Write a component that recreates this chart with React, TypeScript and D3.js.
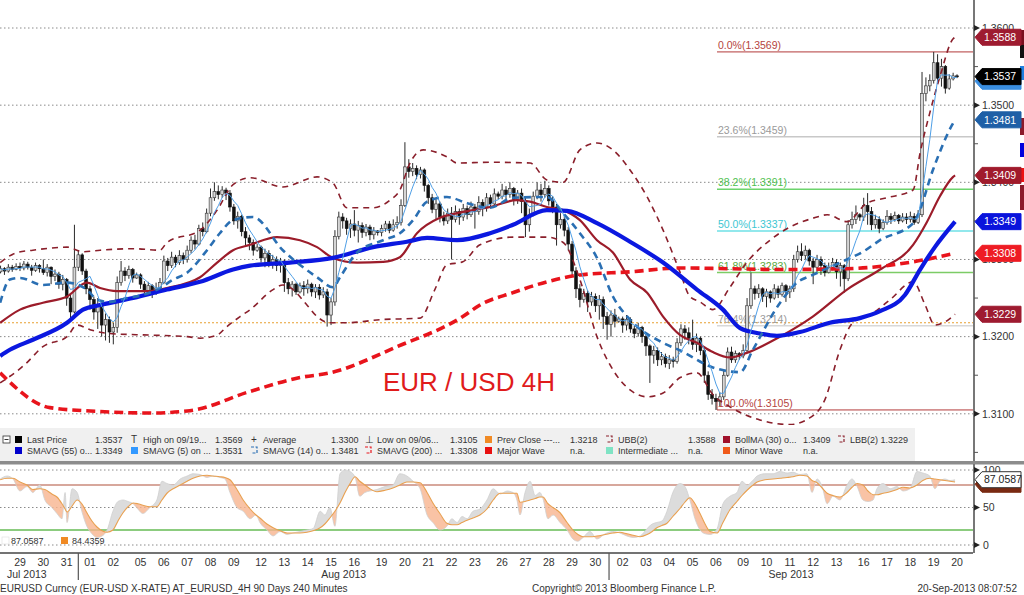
import React from "react";
import * as d3 from "d3";

// ---------- DATA ----------
// Price values are pips above 1.3000 (e.g. 285 => 1.3285). Bar index 0 = Jul 29 label position.
const FIRST_BAR = -5;
// [open, high, low, close] per 4H bar
const candles: number[][] = [
  [284,292,282,288],[288,290,280,285],[285,294,283,290],[290,293,284,287],[287,295,286,291],
  [291,296,285,289],[289,298,286,294],[294,297,287,290],[290,293,279,286],[286,296,284,292],[292,294,283,288],
  [288,300,280,283],[283,294,278,290],[290,291,268,278],[278,287,272,281],[281,284,262,268],[268,280,260,274],
  [274,276,240,250],[250,255,222,232],[232,345,230,290],[290,312,285,306],[306,308,280,285],[285,288,255,262],
  [262,266,235,248],[248,252,222,232],[232,250,210,240],[240,244,200,215],[215,230,195,222],[222,226,192,206],
  [206,218,190,212],[212,278,205,270],[270,298,266,285],[285,290,272,279],[279,292,275,287],[287,289,270,276],
  [276,283,275,280],
  [280,282,262,268],[268,272,252,260],[260,271,255,266],[266,268,250,258],[258,270,254,263],[263,276,258,270],
  [270,305,268,298],[298,302,285,292],[292,310,289,303],[303,306,290,296],[296,312,293,305],[305,309,294,300],
  [300,318,296,312],[312,330,308,325],[325,332,313,320],[320,345,318,340],[340,348,330,336],[336,366,334,360],
  [360,392,356,380],[380,400,376,388],[388,396,378,384],[384,395,380,390],[390,393,377,386],[386,390,362,368],
  [368,372,345,350],[350,362,340,356],[356,358,330,336],[336,342,318,328],[328,332,312,322],[322,326,305,312],
  [312,320,310,316],
  [316,318,296,302],[302,314,290,308],[308,312,290,296],[296,306,288,300],[300,304,285,292],[292,302,283,298],
  [298,300,258,270],[270,276,255,262],[262,272,252,268],[268,270,254,258],[258,270,256,266],[266,272,253,262],
  [262,274,256,268],[268,270,252,258],[258,268,250,264],[264,268,248,254],[254,264,250,258],[258,262,213,228],
  [228,250,215,245],[245,338,240,330],[330,362,326,355],[355,360,340,350],[350,354,332,340],[340,352,328,346],
  [346,364,330,338],[338,350,322,344],[344,348,328,335],[335,346,330,342],[342,345,325,332],[332,342,326,337],
  [337,338,331,335],
  [335,345,330,340],[340,350,336,346],[346,350,334,338],[338,352,336,345],[345,356,340,348],[348,378,344,370],
  [370,452,368,420],[420,430,406,414],[414,425,408,418],[418,422,404,410],[410,420,405,416],[416,418,388,396],
  [396,398,372,380],[380,385,360,365],[365,378,352,372],[372,375,348,355],[355,362,344,350],[350,366,346,360],
  [360,368,300,352],[352,370,348,362],[362,366,345,355],[355,372,350,366],[366,370,352,358],[358,375,355,368],
  [368,372,340,362],[362,382,358,374],[374,378,356,368],[368,386,362,380],[380,384,366,372],[372,392,370,385],
  [385,388,378,382],
  [382,398,378,390],[390,395,376,384],[384,400,380,392],[392,394,370,378],[378,390,372,386],[386,392,360,375],
  [375,380,329,345],[345,366,336,358],[358,388,356,382],[382,400,378,390],[390,398,375,384],[384,402,380,392],
  [392,396,370,376],[376,382,360,368],[368,372,318,345],[345,360,340,352],[352,356,330,338],[338,342,312,320],
  [320,324,278,285],[285,290,250,262],[262,268,238,248],[248,262,244,256],[256,260,232,245],[245,258,240,252],
  [252,256,232,240],[240,254,222,248],[248,252,210,226],[226,232,196,216],[216,234,200,228],[228,236,212,220],
  [220,226,218,223],
  [223,226,205,215],[215,228,208,222],[222,225,205,210],[210,214,198,204],[204,218,200,212],[212,214,192,200],
  [200,204,175,188],[188,190,140,176],[176,188,165,182],[182,186,162,170],[170,180,163,174],[174,178,160,165],
  [165,176,158,170],[170,174,160,168],[168,198,165,192],[192,216,188,210],[210,215,196,205],[205,212,190,198],
  [198,222,183,190],[190,204,180,198],[198,200,176,182],[182,186,140,150],[150,155,118,125],[125,132,112,120],
  [120,126,105,116],[116,128,110,122],[122,156,118,150],[150,186,148,180],[180,187,166,170],[170,182,166,178],
  [178,180,170,175],
  [175,190,172,182],[182,250,180,240],[240,283,236,262],[262,266,248,256],[256,268,250,262],[262,264,245,252],
  [252,262,238,258],[258,260,244,250],[250,268,248,262],[262,266,250,255],[255,270,252,266],[266,268,245,258],
  [258,266,250,262],[262,306,258,300],[300,318,296,310],[310,321,298,305],[305,318,300,312],[312,314,292,298],
  [298,302,268,290],[290,306,284,300],[300,304,280,292],[292,296,278,283],[283,296,282,290],[290,302,286,296],
  [296,300,275,284],[284,296,265,292],[292,294,257,275],[275,351,272,345],[345,362,340,352],[352,370,346,358],
  [358,360,350,355],
  [355,380,350,370],[370,386,345,362],[362,368,338,345],[345,358,340,352],[352,356,334,340],[340,352,338,348],
  [348,364,345,356],[356,360,346,352],[352,362,349,357],[357,359,346,350],[350,360,348,355],[355,360,346,352],
  [352,362,348,356],[356,360,345,348],[348,364,346,358],[358,543,355,515],[515,536,505,525],[525,540,518,532],
  [532,569,528,555],[555,566,530,535],[535,560,524,550],[550,552,515,522],[522,540,520,534],[534,542,532,538],
  [538,540,535,537],
];

// indicator lines: [bar, pips]
const smavg55 = [[-5.1,175],[-2.6,183],[3.3,196],[12.1,218],[16.2,235],[20.6,241],[29.1,250],[37.8,261],[46.3,271],[54.8,287],[59.2,292],[69.4,296],[80.5,302],[90.8,316],[99.5,323],[104.7,328],[112.4,325],[120.9,334],[126.8,345],[135.5,364],[140.7,363],[148.4,347],[156.9,323],[165.4,296],[174.1,261],[180.8,235],[185.2,211],[190.3,204],[194.7,201],[200.6,206],[208.3,218],[216,224],[221.2,233],[227.6,254],[231.5,287],[235.3,316],[240.5,349]];
const smavg200 = [[-5.1,153],[7.7,108],[20.6,103],[33.4,101],[43.7,104],[59.2,129],[72,147],[79.7,153],[97,187],[113.9,226],[118.3,241],[126.8,257],[135.5,271],[144,280],[156.9,284],[169.8,289],[182.6,288],[195.5,287],[212.7,288],[229.7,297],[240.5,308]];
const smavg14 = [[-5.1,244],[-2.6,274],[0,276],[5.9,267],[12.1,270],[17.2,261],[19.8,248],[23.1,245],[27.5,250],[31.6,254],[36,263],[39.4,274],[43,283],[48.1,312],[51.4,334],[54.8,351],[59.9,355],[67.6,312],[76.4,277],[80.5,264],[82.3,277],[86.7,309],[93.4,325],[97.7,334],[101.1,351],[104.7,375],[109.8,381],[115,373],[120.9,367],[126.8,380],[135.5,381],[139.7,360],[144,334],[148.4,302],[152.5,252],[156.9,222],[165.4,192],[169.8,182],[178.2,160],[185.2,154],[188.5,183],[195.5,244],[199.8,270],[203.9,280],[212.7,300],[216.8,310],[221.2,325],[229.7,347],[230.7,355],[234.8,416],[239.7,474],[240.5,481]];
const bollMA30 = [[-5.1,218],[0,235],[5.9,244],[12.1,252],[17.2,270],[20.6,263],[24.9,259],[33.4,259],[37.8,263],[46.3,277],[50.7,296],[54.8,312],[59.2,319],[66.1,329],[72,325],[76.4,316],[80.5,302],[86.7,296],[93.4,297],[97.7,303],[102.1,334],[108,354],[112.4,360],[120.9,368],[127.8,377],[131.2,375],[135.5,368],[139.7,364],[144,351],[148.4,325],[152.5,309],[156.9,274],[161.3,257],[165.4,226],[169.8,202],[174.1,192],[178.2,180],[182.6,173],[186.9,179],[195.5,200],[203.9,226],[212.7,261],[221.2,287],[229.7,319],[233.3,349],[236.6,382],[240,407],[240.5,409]];
const upperBB = [[-5.1,296],[-0.8,309],[3.3,312],[12.1,316],[16.2,310],[20.6,312],[29.1,314],[36,312],[37.8,322],[46.3,338],[50.7,364],[54.8,397],[59.2,406],[67.6,394],[76.4,407],[80.5,399],[84.1,367],[90.8,367],[95.2,377],[97.7,390],[100.3,425],[103.7,442],[109.8,433],[112.4,425],[120.9,426],[131.2,425],[135.5,403],[139.7,400],[144,442],[148.4,451],[152.5,442],[156.9,416],[161.3,381],[165.4,338],[169.8,283],[172.3,252],[174.9,245],[178.2,235],[182.6,264],[186.9,296],[192.9,325],[198,342],[202.4,351],[205,355],[207.6,358],[212.7,349],[217.8,373],[223,380],[229.7,390],[231.5,438],[234,490],[236.6,537],[240,586],[240.5,588]];
const lowerBB = [[-5.1,140],[1.3,164],[5.9,187],[12.1,200],[14.7,215],[18,209],[23.1,204],[33.4,202],[43,200],[46.3,198],[50.7,202],[53.2,213],[56.6,226],[59.2,235],[65.1,261],[67.6,267],[69.4,264],[73.8,241],[76.4,226],[79.7,218],[84.1,218],[92.6,222],[102.9,224],[106.7,261],[109.8,293],[113.9,297],[118.3,319],[126.8,329],[135.5,329],[139.7,322],[144,274],[148.4,200],[152.5,157],[156.9,131],[161.3,122],[165.4,127],[169.8,147],[174.1,153],[178.2,125],[182.6,109],[190.3,92],[198,86],[203.2,95],[207,118],[210.9,183],[214.2,218],[218.6,228],[223.8,248],[229.7,271],[232.8,241],[235.3,215],[237.9,219],[240.5,229]];

// Stochastic panel: [bar, fast, slow]
const stoch = [[-5.1,88,87],[-3.3,92,89],[-1.8,88,89],[0,72,84],[1.8,78,80],[3.3,70,74],[5.1,80,75],[6.4,60,74],[8.2,50,68],[9.5,42,64],[10.8,35,55],[11.6,70,48],[12.1,30,44],[13.4,75,52],[14.7,70,60],[15.9,45,55],[17.2,25,43],[18.5,15,32],[19.8,10,24],[21.1,12,19],[22.4,20,17],[23.9,45,20],[25.2,58,32],[26.5,60,43],[27.8,58,51],[29.1,55,56],[30.3,48,55],[31.6,42,53],[33.4,50,51],[35.2,60,51],[36.5,85,60],[37.8,82,69],[39.4,80,75],[41.2,88,80],[43,92,85],[44.5,95,89],[46.3,94,92],[48.1,90,93],[49.6,92,92],[51.4,90,91],[52.7,88,90],[54,70,87],[55.8,50,74],[57.4,45,60],[59.2,35,48],[60.7,40,40],[61.7,30,36],[63.5,20,28],[65.1,12,23],[66.9,18,19],[68.7,14,16],[70.2,16,16],[72,18,16],[73.8,20,17],[75.4,22,19],[77.2,45,23],[78.4,40,28],[79.7,50,36],[81,25,45],[82.3,95,56],[83.6,100,70],[84.9,98,82],[86.2,90,91],[87.4,65,85],[88.7,70,80],[90,72,75],[91.8,74,71],[93.9,78,73],[95.9,80,76],[97.7,95,80],[99.5,92,84],[101.1,85,84],[102.9,75,83],[104.7,40,70],[106.2,30,56],[108,20,42],[109.8,25,29],[111.1,35,27],[112.4,30,27],[113.7,38,30],[115,35,33],[116.5,45,36],[118.3,48,40],[120.1,60,48],[121.7,75,60],[123.5,68,69],[125.3,72,69],[126.8,70,69],[127.8,60,69],[128.6,40,57],[129.9,70,58],[131.2,85,60],[132.5,66,62],[133.7,70,64],[134.5,62,64],[135.8,35,55],[137.1,40,50],[138.9,30,43],[140.7,20,30],[142.2,8,20],[143.5,5,14],[144.8,10,11],[146.6,18,11],[148.4,8,12],[150.5,15,14],[152.5,18,16],[154.3,16,17],[156.1,12,15],[157.7,10,13],[159.5,12,11],[161.3,22,14],[162.6,28,18],[163.8,30,23],[165.1,32,26],[166.4,45,29],[167.9,70,38],[169.8,82,49],[171,78,57],[172.3,60,63],[173.6,35,55],[174.9,20,42],[176.2,15,28],[177.5,14,18],[179.3,22,16],[180.8,55,30],[182.6,65,47],[184.4,70,58],[185.7,85,66],[187,80,73],[188.3,85,79],[189.6,92,84],[191.6,95,87],[193.7,95,88],[195.5,98,89],[197.3,96,90],[198.8,97,91],[200.6,94,93],[202.4,95,92],[203.7,70,86],[205,88,83],[206.3,78,76],[207.6,55,69],[209.1,65,66],[210.9,60,64],[212.7,80,70],[214,88,77],[215.3,78,82],[216.8,60,80],[218.1,58,72],[219.4,60,67],[220.4,75,67],[222,82,69],[223.8,75,71],[225.6,78,74],[227.1,72,77],[228.9,75,76],[230.7,98,80],[232.2,96,86],[234,92,89],[235.3,75,88],[236.6,85,87],[237.9,88,86],[239.2,86,85],[240.5,87,84]];

const tradingDays = ["2013-07-29","2013-07-30","2013-07-31","2013-08-01","2013-08-02","2013-08-05","2013-08-06","2013-08-07","2013-08-08","2013-08-09","2013-08-12","2013-08-13","2013-08-14","2013-08-15","2013-08-16","2013-08-19","2013-08-20","2013-08-21","2013-08-22","2013-08-23","2013-08-26","2013-08-27","2013-08-28","2013-08-29","2013-08-30","2013-09-02","2013-09-03","2013-09-04","2013-09-05","2013-09-06","2013-09-09","2013-09-10","2013-09-11","2013-09-12","2013-09-13","2013-09-16","2013-09-17","2013-09-18","2013-09-19","2013-09-20"];

const priceTicks = [1.36, 1.35, 1.34, 1.33, 1.32, 1.31];
const priceMinorTicks = [1.355, 1.345, 1.335, 1.325, 1.315, 1.305];
const fibLevels = [
  { label: "0.0%(1.3569)", value: 1.3569, color: "#b23a3a", text: "#b5443e" },
  { label: "23.6%(1.3459)", value: 1.3459, color: "#c8c8c8", text: "#9a9a9a" },
  { label: "38.2%(1.3391)", value: 1.3391, color: "#6cd46c", text: "#4fbf4f" },
  { label: "50.0%(1.3337)", value: 1.3337, color: "#6ee0e6", text: "#3cc6d2" },
  { label: "61.8%(1.3283)", value: 1.3283, color: "#7ccc66", text: "#5aaa3a" },
  { label: "76.4%(1.3214)", value: 1.3214, color: "#d8d8d8", text: "#9a9a9a" },
  { label: "100.0%(1.3105)", value: 1.3105, color: "#b23a3a", text: "#b5443e" },
];
const prevClose = 1.3218;
const priceTags = [
  { value: 1.3531, fill: "#3a8ee0", text: "" },
  { value: 1.3588, fill: "#9e1b30", text: "1.3588" },
  { value: 1.3537, fill: "#000000", text: "1.3537" },
  { value: 1.3481, fill: "#1e5fa6", text: "1.3481" },
  { value: 1.3409, fill: "#a01b2c", text: "1.3409" },
  { value: 1.3349, fill: "#0a14dc", text: "1.3349" },
  { value: 1.3308, fill: "#ee1c24", text: "1.3308" },
  { value: 1.3229, fill: "#9e1b30", text: "1.3229" },
];
const oscTicks = [100, 50, 0];
const oscFastLast = "87.0587";
const oscSlowLast = "84.4359";

const legendRow1 = [
  { sw: "sq", color: "#000000", label: "Last Price", value: "1.3537" },
  { sw: "T", color: "#333", label: "High on 09/19...", value: "1.3569" },
  { sw: "+", color: "#333", label: "Average", value: "1.3300" },
  { sw: "⊥", color: "#333", label: "Low on 09/06...", value: "1.3105" },
  { sw: "sq", color: "#f08a24", label: "Prev Close ---...", value: "1.3218" },
  { sw: "br", color: "#8a1f2b", label: "UBB(2)", value: "1.3588" },
  { sw: "sq", color: "#a0102a", label: "BollMA (30) o...", value: "1.3409" },
  { sw: "br", color: "#8a1f2b", label: "LBB(2) 1.3229", value: "" },
];
const legendRow2 = [
  { sw: "sq", color: "#0000cc", label: "SMAVG (55) o...", value: "1.3349" },
  { sw: "sq", color: "#3399ff", label: "SMAVG (5) on ...", value: "1.3531" },
  { sw: "br", color: "#2a6fb3", label: "SMAVG (14) o...", value: "1.3481" },
  { sw: "br", color: "#e8141c", label: "SMAVG (200) ...", value: "1.3308" },
  { sw: "sq", color: "#e81010", label: "Major Wave", value: "n.a." },
  { sw: "sq", color: "#7fe3c4", label: "Intermediate ...", value: "n.a." },
  { sw: "sq", color: "#f05a1a", label: "Minor Wave", value: "n.a." },
];

// ---------- LAYOUT ----------
const FONT = "'Liberation Sans', Arial, sans-serif";
const PLOT_R = 973;
const legendLabelX = [27, 143, 263, 377, 497, 618, 735, 850];
const legendValueX = [95, 215, 331, 450, 570, 688, 803, 0];

export default function App() {
  const x = d3.scaleLinear().domain([-5.144, 245.11]).range([0, PLOT_R]);
  const yPrice = d3.scaleLinear().domain([1.31, 1.36]).range([413.8, 28]);
  const y = (pip: number) => yPrice(1.3 + pip / 10000);
  const yO = d3.scaleLinear().domain([0, 100]).range([545, 470]);

  const lineGen = d3.line<number[]>().x((d) => x(d[0])).y((d) => y(d[1])).curve(d3.curveMonotoneX);

  const closes = candles.map((c) => c[3]);
  const sma5 = closes.map((_, i) => [FIRST_BAR + i, d3.mean(closes.slice(Math.max(0, i - 4), i + 1)) as number]);
  const sma5Path = d3.line<number[]>().x((d) => x(d[0])).y((d) => y(d[1]))(sma5) || "";

  // day labels
  const parse = d3.timeParse("%Y-%m-%d");
  const dates = tradingDays.map((s) => parse(s) as Date);
  const daySlots: number[] = [];
  const gapFlags: boolean[] = [];
  dates.forEach((d, i) => {
    if (i === 0) { daySlots.push(0); gapFlags.push(false); return; }
    const gap = d3.timeDay.count(dates[i - 1], d) > 1;
    gapFlags.push(gap);
    daySlots.push(daySlots[i - 1] + 6 + (gap ? 1 : 0));
  });
  const fmtDay = d3.timeFormat("%d");
  const fmtMonth = d3.timeFormat("%b %Y");
  const monthSeps: number[] = [];
  const months: { label: string; start: number; end: number }[] = [];
  dates.forEach((d, i) => {
    if (i === 0 || d.getMonth() !== dates[i - 1].getMonth()) {
      const sep = i === 0 ? 0 : x(daySlots[i] - 3 - (gapFlags[i] ? 0.5 : 0));
      if (i > 0) { monthSeps.push(sep); months[months.length - 1].end = sep; }
      months.push({ label: fmtMonth(d), start: sep, end: PLOT_R });
    }
  });

  // stochastic
  const areaKD = d3.area<number[]>().x((d) => x(d[0])).y0((d) => yO(d[2])).y1((d) => yO(d[1])).curve(d3.curveMonotoneX);
  const areaAbove = d3.area<number[]>().x((d) => x(d[0])).y0(() => 464).y1((d) => yO(d[2])).curve(d3.curveMonotoneX);
  const areaBelow = d3.area<number[]>().x((d) => x(d[0])).y0(() => 553).y1((d) => yO(d[2])).curve(d3.curveMonotoneX);
  const kLine = d3.line<number[]>().x((d) => x(d[0])).y((d) => yO(d[1])).curve(d3.curveMonotoneX);
  const dLine = d3.line<number[]>().x((d) => x(d[0])).y((d) => yO(d[2])).curve(d3.curveMonotoneX);

  const fibX0 = 717;

  const tag = (yc: number, fill: string, text: string, key: string, textFill = "#fff", stroke?: string) => {
    const x0 = 975, w = 46, h = 16;
    const d = `M${x0},${yc} L${x0 + 7},${yc - h / 2} L${x0 + w},${yc - h / 2} L${x0 + w},${yc + h / 2} L${x0 + 7},${yc + h / 2} Z`;
    return (
      <g key={key}>
        <path d={d} fill={fill} stroke={stroke ?? fill} strokeWidth={1} />
        {text && <text x={x0 + 9} y={yc} dy="0.36em" fill={textFill} fontSize={10.5} fontFamily={FONT}>{text}</text>}
      </g>
    );
  };

  const swatch = (sw: string, color: string, xx: number, yy: number, key: string) => {
    if (sw === "sq") return <rect key={key} x={xx} y={yy - 7} width={7} height={7} fill={color} />;
    if (sw === "br") return <path key={key} d={`M${xx},${yy - 7} h6 v6 h-6`} fill="none" stroke={color} strokeWidth={1.2} strokeDasharray="3,1.5" />;
    return <text key={key} x={xx} y={yy} fontSize={10} fontFamily={FONT} fill={color}>{sw}</text>;
  };

  return (
    <svg width={1024} height={595} style={{ position: "absolute", left: 0, top: 0, background: "#fff" }} fontFamily={FONT}>
      <defs>
        <clipPath id="plotClip"><rect x={0} y={0} width={PLOT_R} height={425} /></clipPath>
        <clipPath id="oscAbove"><path d={areaAbove(stoch) || ""} /></clipPath>
        <clipPath id="oscBelow"><path d={areaBelow(stoch) || ""} /></clipPath>
        <clipPath id="oscClip"><rect x={0} y={465} width={PLOT_R} height={88} /></clipPath>
      </defs>
      <rect x={0} y={0} width={1024} height={595} fill="#fff" />

      {/* price grid */}
      {priceTicks.map((p) => (
        <line key={"g" + p} x1={0} x2={PLOT_R} y1={yPrice(p)} y2={yPrice(p)} stroke="#8a8a8a" strokeWidth={1} strokeDasharray="1.5,2.5" />
      ))}
      <line x1={0} x2={PLOT_R} y1={yPrice(prevClose)} y2={yPrice(prevClose)} stroke="#e8a030" strokeWidth={1.2} strokeDasharray="2,2" />

      {/* fib lines */}
      {fibLevels.map((f) => (
        <g key={f.label}>
          <line x1={fibX0} x2={PLOT_R} y1={yPrice(f.value)} y2={yPrice(f.value)} stroke={f.color} strokeWidth={f.value === 1.3569 || f.value === 1.3105 ? 1 : 1.5} />
          <text x={fibX0 + 1} y={yPrice(f.value) - 3} fontSize={10.5} fill={f.text} fontFamily={FONT}>{f.label}</text>
        </g>
      ))}
      <line x1={fibX0} x2={fibX0} y1={yPrice(1.3105) - 10} y2={yPrice(1.3105)} stroke="#b23a3a" strokeWidth={1} />

      <g clipPath="url(#plotClip)">
        {/* candles */}
        {candles.map((c, i) => {
          const cx = x(FIRST_BAR + i);
          const [o, h, l, cl] = c;
          const up = cl >= o;
          const top = Math.min(y(o), y(cl));
          const bh = Math.max(1, Math.abs(y(o) - y(cl)));
          return (
            <g key={"c" + i}>
              <line x1={cx} x2={cx} y1={y(h)} y2={y(l)} stroke="#2a2a2a" strokeWidth={1} />
              <rect x={cx - 1.4} y={top} width={2.8} height={bh} fill={up ? "#d6d6d6" : "#111"} stroke={up ? "#333" : "#111"} strokeWidth={0.6} />
            </g>
          );
        })}

        {/* bollinger */}
        <path d={lineGen(upperBB) || ""} fill="none" stroke="#8a1f2b" strokeWidth={1.6} strokeDasharray="6,5" />
        <path d={lineGen(lowerBB) || ""} fill="none" stroke="#8a1f2b" strokeWidth={1.6} strokeDasharray="6,5" />
        <path d={lineGen(bollMA30) || ""} fill="none" stroke="#9c1c2a" strokeWidth={2.2} />
        <path d={lineGen(smavg200) || ""} fill="none" stroke="#e8141c" strokeWidth={3.6} strokeDasharray="9,5" />
        <path d={lineGen(smavg55) || ""} fill="none" stroke="#0b18e0" strokeWidth={4.2} />
        <path d={lineGen(smavg14) || ""} fill="none" stroke="#2a6fb3" strokeWidth={2.6} strokeDasharray="7,5" />
        <path d={sma5Path} fill="none" stroke="#4f9fe6" strokeWidth={1} />
      </g>

      <text x={383} y={391} fontSize={26} fill="#e01b1b" fontFamily={FONT}>EUR / USD 4H</text>

      {/* right price axis */}
      <line x1={974} x2={974} y1={0} y2={461} stroke="#777" strokeWidth={2} />
      {priceMinorTicks.map((p) => (
        <line key={"mt" + p} x1={974} x2={978} y1={yPrice(p)} y2={yPrice(p)} stroke="#555" />
      ))}
      {priceTicks.map((p) => (
        <g key={"t" + p}>
          <path d={`M974,${yPrice(p) - 3} L980,${yPrice(p)} L974,${yPrice(p) + 3} Z`} fill="#222" />
          <text x={982} y={yPrice(p)} dy="0.36em" fontSize={10.5} fill="#333">{d3.format(".4f")(p)}</text>
        </g>
      ))}
      {/* cut-off tags at the far right */}
      <rect x={1020} y={30} width={4} height={15} fill="#7a0f1f" />
      <rect x={1020} y={45} width={4} height={13} fill="#111" />
      <rect x={1020} y={66} width={4} height={14} fill="#1e7fe0" />
      <rect x={1020} y={118} width={4} height={17} fill="#8b1a2a" />
      <rect x={1020} y={143} width={4} height={14} fill="#0000dd" />
      <rect x={1020} y={168} width={4} height={14} fill="#ee1111" />
      <rect x={1020} y={185} width={4} height={25} fill="#8b1a2a" />
      {priceTags.map((t, i) => tag(yPrice(t.value), t.fill, t.text, "tag" + i))}

      {/* legend */}
      <rect x={0} y={428} width={915} height={33} fill="#f0f0f0" />
      <rect x={3} y={436} width={7} height={7} fill="#fff" stroke="#333" strokeWidth={0.8} />
      <line x1={4.5} x2={8.5} y1={439.5} y2={439.5} stroke="#333" />
      {legendRow1.map((e, i) => (
        <g key={"l1" + i}>
          {swatch(e.sw, e.color, legendLabelX[i] - 12, 443, "s1" + i)}
          <text x={legendLabelX[i]} y={443} fontSize={9} fill="#333">{e.label}</text>
          {e.value && <text x={legendValueX[i]} y={443} fontSize={9} fill="#333">{e.value}</text>}
        </g>
      ))}
      {legendRow2.map((e, i) => (
        <g key={"l2" + i}>
          {swatch(e.sw, e.color, legendLabelX[i] - 12, 454, "s2" + i)}
          <text x={legendLabelX[i]} y={454} fontSize={9} fill="#333">{e.label}</text>
          <text x={legendValueX[i]} y={454} fontSize={9} fill="#333">{e.value}</text>
        </g>
      ))}
      <rect x={0} y={461} width={1024} height={3.5} fill="#8c8c8c" />

      {/* oscillator */}
      {oscTicks.map((v) => (
        <line key={"og" + v} x1={0} x2={PLOT_R} y1={yO(v)} y2={yO(v)} stroke="#8a8a8a" strokeDasharray="1.5,2.5" />
      ))}
      <line x1={0} x2={PLOT_R} y1={yO(80)} y2={yO(80)} stroke="#b0503a" strokeWidth={1.2} />
      <line x1={0} x2={PLOT_R} y1={yO(20)} y2={yO(20)} stroke="#66bb55" strokeWidth={1.5} />
      <g clipPath="url(#oscClip)">
        <g clipPath="url(#oscAbove)">
          <path d={areaKD(stoch) || ""} fill="#dcdcdc" />
        </g>
        <g clipPath="url(#oscBelow)">
          <path d={areaKD(stoch) || ""} fill="#f8b48e" opacity={0.8} />
        </g>
        <path d={kLine(stoch) || ""} fill="none" stroke="#cfcfcf" strokeWidth={0.8} />
        <path d={dLine(stoch) || ""} fill="none" stroke="#e8a050" strokeWidth={1.1} />
      </g>
      <rect x={2} y={537} width={7} height={7} fill="#fff" stroke="#ddd" strokeWidth={0.6} />
      <text x={11} y={544} fontSize={9} fill="#333">{oscFastLast}</text>
      <rect x={61} y={537} width={7} height={7} fill="#f08a24" />
      <text x={72} y={544} fontSize={9} fill="#333">{oscSlowLast}</text>
      <line x1={974} x2={974} y1={464} y2={553} stroke="#777" strokeWidth={2} />
      {oscTicks.map((v) => (
        <g key={"ot" + v}>
          <path d={`M974,${yO(v) - 3} L980,${yO(v)} L974,${yO(v) + 3} Z`} fill="#222" />
          <text x={983} y={yO(v)} dy="0.36em" fontSize={10.5} fill="#333">{v}</text>
        </g>
      ))}
      {tag(yO(81), "#7a2a12", "", "slowtag")}
      {tag(yO(87.06), "#fff", oscFastLast, "fasttag", "#222", "#333")}

      {/* time axis */}
      <line x1={0} x2={PLOT_R} y1={553} y2={553} stroke="#444" strokeWidth={1.5} />
      {monthSeps.map((s, i) => (
        <line key={"ms" + i} x1={s} x2={s} y1={553} y2={580} stroke="#555" strokeWidth={1.2} />
      ))}
      {dates.map((d, i) => (
        <text key={"d" + i} x={x(daySlots[i])} y={566} textAnchor="middle" fontSize={10.5} fill="#333">{fmtDay(d)}</text>
      ))}
      {months.map((m, i) => (
        <text key={"m" + i} x={i === 0 ? 7 : (m.start + m.end) / 2} y={578} textAnchor={i === 0 ? "start" : "middle"} fontSize={10.5} fill="#333">{m.label}</text>
      ))}

      {/* footer */}
      <text x={0} y={592} fontSize={10} fill="#333">EURUSD Curncy (EUR-USD X-RATE) AT_EURUSD_4H 90 Days 240 Minutes</text>
      <text x={532} y={592} fontSize={10} fill="#333">Copyright© 2013 Bloomberg Finance L.P.</text>
      <text x={1017} y={592} fontSize={10} fill="#333" textAnchor="end">20-Sep-2013 08:07:52</text>
    </svg>
  );
}
